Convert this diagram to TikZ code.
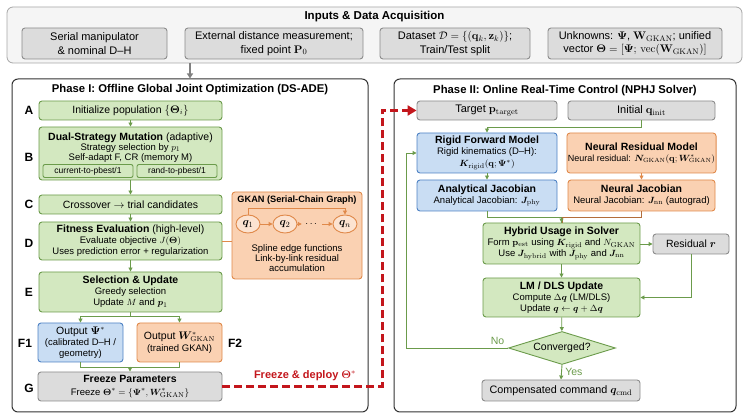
\documentclass[tikz,border=0pt]{standalone}
\usepackage{amsmath}
\usepackage{bm}
\usepackage[no-math]{fontspec}
\setmainfont{Liberation Sans}
\usepackage{xcolor}
\usepackage{tikz}
\usetikzlibrary{positioning, shapes.geometric, arrows.meta, calc}

\definecolor{grnfill}{HTML}{D3E8C0}
\definecolor{grnline}{HTML}{6B9B4B}
\definecolor{bluefill}{HTML}{C9DDF3}
\definecolor{blueline}{HTML}{4E82C4}
\definecolor{orgfill}{HTML}{FAD1B2}
\definecolor{orgline}{HTML}{E0894A}
\definecolor{grayfill}{HTML}{DCDCDC}
\definecolor{grayline}{HTML}{8C8C8C}
\definecolor{deployred}{HTML}{C3161C}

\begin{document}
\begin{tikzpicture}[x=1pt, y=1pt,
    boxwh/.style 2 args={minimum width=#1pt, minimum height=#2pt},
    box/.style={rounded corners=3pt, line width=0.9pt, align=center, inner sep=1pt, font=\fontsize{9.5}{11}\selectfont},
    grnbox/.style={box, draw=grnline, fill=grnfill},
    bluebox/.style={box, draw=blueline, fill=bluefill},
    orgbox/.style={box, draw=orgline, fill=orgfill},
    graybox/.style={box, draw=grayline, fill=grayfill},
    phasebox/.style={draw=black!80, line width=1pt, rounded corners=6pt},
    phasetitle/.style={font=\bfseries\fontsize{11.3}{12.5}\selectfont},
    steplabel/.style={font=\bfseries\fontsize{12}{13}\selectfont},
    qnode/.style={ellipse, draw=orgline, fill=orgfill!60!white, line width=0.9pt, minimum width=24pt, minimum height=18pt, inner sep=0pt, font=\fontsize{11}{12}\selectfont},
    flow/.style={-{Triangle[length=4pt, width=4pt]}, grnline, line width=0.9pt},
    oflow/.style={-{Triangle[length=4pt, width=4pt]}, orgline, line width=0.9pt}]
  \useasboundingbox (0,0) rectangle (750,420);

  % Inputs
  \node[draw=gray!70, fill=gray!8, rounded corners=6pt, line width=0.8pt, boxwh={735}{56}] (inp) at (374.5, 385) {};
  \node[font=\bfseries\fontsize{11.5}{13}\selectfont] (inptitle) at (374.5, 403) {Inputs \& Data Acquisition};
  \node[graybox, boxwh={145}{31}, font=\fontsize{11}{13.5}\selectfont] (in1) at (94.5, 376.5) {Serial manipulator\\ \& nominal D--H};
  \node[graybox, boxwh={178}{31}, font=\fontsize{11}{13.5}\selectfont] (in2) at (274, 376.5) {External distance measurement;\\ fixed point $\mathbf{P}_0$};
  \node[graybox, boxwh={150}{31}, font=\fontsize{11}{13.5}\selectfont] (in3) at (455, 376.5) {Dataset $\mathcal{D}=\{(\mathbf{q}_k,\mathbf{z}_k)\}$;\\ Train/Test split};
  \node[graybox, boxwh={174}{31}, font=\fontsize{11}{13.5}\selectfont] (in4) at (635, 376.5) {Unknowns: $\bm{\Psi}$, $\mathbf{W}_{\mathrm{GKAN}}$; unified\\ vector $\bm{\Theta}=[\bm{\Psi};\,\mathrm{vec}(\mathbf{W}_{\mathrm{GKAN}})]$};

  % Phase frames
  \node[phasebox, boxwh={356}{333}] (ph1) at (190, 174.5) {};
  \node[phasebox, boxwh={342}{333}] (ph2) at (565, 174.5) {};
  \node[phasetitle] (ph1title) at (190, 330) {Phase I: Offline Global Joint Optimization (DS-ADE)};
  \node[phasetitle] (ph2title) at (565, 329) {Phase II: Online Real-Time Control (NPHJ Solver)};
  \draw[-{Triangle[length=5pt, width=6pt]}, gray, line width=1.5pt] (inp.south -| ph1.north) -- (ph1.north);

  % Phase I steps
  \node[grnbox, boxwh={183}{19}, font=\fontsize{10.5}{12}\selectfont] (A) at (130.5, 309.5) {Initialize population $\{\bm{\Theta}_i\}$};
  \node[grnbox, boxwh={183}{53}] (B) at (130.5, 266.5) {};
  \node[align=center, font=\fontsize{9.5}{10.3}\selectfont] (Btxt) at (130.5, 272.5) {{\fontsize{10.5}{11}\selectfont\textbf{Dual-Strategy Mutation} (adaptive)}\\ Strategy selection by $p_1$\\ Self-adapt F, CR (memory M)};
  \node[grnbox, boxwh={90}{13}, rounded corners=2pt, font=\fontsize{8.5}{9}\selectfont] (B1) at (88, 249) {current-to-pbest/1};
  \node[grnbox, boxwh={80}{13}, rounded corners=2pt, font=\fontsize{8.5}{9}\selectfont] (B2) at (177, 249) {rand-to-pbest/1};
  \node[grnbox, boxwh={183}{19}, font=\fontsize{10.5}{12}\selectfont] (C) at (130.5, 215.5) {Crossover $\rightarrow$ trial candidates};
  \node[grnbox, boxwh={183}{38}] (D) at (130.5, 179) {{\fontsize{10.5}{11}\selectfont\textbf{Fitness Evaluation} (high-level)}\\ Evaluate objective $J(\bm{\Theta})$\\ Uses prediction error + regularization};
  \node[grnbox, boxwh={183}{40}] (E) at (130.5, 128) {{\fontsize{10.5}{11}\selectfont\textbf{Selection \& Update}}\\ Greedy selection\\ Update $M$ and $\bm{p}_1$};
  \node[bluebox, boxwh={85}{39}] (F1) at (80.5, 77.5) {{\fontsize{10.5}{11}\selectfont Output $\bm{\Psi}^*$}\\ (calibrated D--H /\\ geometry)};
  \node[orgbox, boxwh={85}{39}] (F2) at (179.5, 77.5) {{\fontsize{10.5}{11}\selectfont Output $\bm{W}^*_{\mathrm{GKAN}}$}\\[1pt] (trained GKAN)};
  \node[graybox, boxwh={184}{29}] (G) at (130, 33.5) {{\fontsize{10.5}{11}\selectfont\textbf{Freeze Parameters}}\\[2pt] Freeze $\bm{\Theta}^*=\{\bm{\Psi}^*,\bm{W}^*_{\mathrm{GKAN}}\}$};

  \node[steplabel] (lblA) at (29, 309.5) {A};
  \node[steplabel] (lblB) at (29, 263) {B};
  \node[steplabel] (lblC) at (29, 215.5) {C};
  \node[steplabel] (lblD) at (29, 177) {D};
  \node[steplabel] (lblE) at (29, 128) {E};
  \node[steplabel] (lblF1) at (25, 77) {F1};
  \node[steplabel] (lblF2) at (235, 77) {F2};
  \node[steplabel] (lblG) at (29, 32) {G};

  \draw[flow] (A) -- (B);
  \draw[flow] (B) -- (C);
  \draw[flow] (C) -- (D);
  \draw[flow] (D) -- (E);
  \draw[grnline, line width=0.9pt] (E.south) -- ++(0,-4) coordinate (esplit);
  \draw[flow] (esplit) -| (F1.north);
  \draw[flow] (esplit) -| (F2.north);
  \draw[grnline, line width=0.9pt] (F1.south) -- ++(0,-5) -| (F2.south);
  \draw[flow] ([yshift=5pt]G.north) -- (G.north);

  % GKAN graph
  \node[orgbox, boxwh={130}{87}] (gkan) at (297, 184.5) {};
  \node[font=\bfseries\fontsize{9.2}{11}\selectfont] (gkantitle) at (297, 220) {GKAN (Serial-Chain Graph)};
  \node[qnode] (q1) at (248, 196) {$\bm{q}_1$};
  \node[qnode] (q2) at (285, 196) {$\bm{q}_2$};
  \node (qd) at (312, 196) {$\cdots$};
  \node[qnode] (qn) at (345, 196) {$\bm{q}_n$};
  \draw[oflow] (q1) -- (q2);
  \draw[oflow] (q2) -- (qd);
  \draw[oflow] (qd) -- (qn);
  \draw[oflow] (q1.north) -- ++(0,6) -| (qn.north);
  \node[align=center, font=\fontsize{9.5}{9.8}\selectfont] (gkantxt) at (297, 162) {Spline edge functions\\ Link-by-link residual\\ accumulation};
  \draw[orgline, line width=0.9pt] (D.east) -- (D.east -| gkan.west);

  % Phase II solver
  \node[graybox, boxwh={140}{19}, font=\fontsize{11}{12}\selectfont] (tgt) at (487, 309.5) {Target $\mathbf{p}_{\mathrm{target}}$};
  \node[graybox, boxwh={147}{19}, font=\fontsize{11}{12}\selectfont] (init) at (641.5, 309.5) {Initial $\mathbf{q}_{\mathrm{init}}$};
  \node[bluebox, boxwh={140}{40}] (rig) at (487, 267) {{\fontsize{10.5}{11}\selectfont\textbf{Rigid Forward Model}}\\ Rigid kinematics (D--H):\\[1.5pt] $\bm{K}_{\mathrm{rigid}}(\mathbf{q};\bm{\Psi}^*)$};
  \node[orgbox, boxwh={147}{40}] (nres) at (641.5, 267) {{\fontsize{10.5}{12}\selectfont\textbf{Neural Residual Model}}\\ {\fontsize{9}{10}\selectfont Neural residual: $\bm{N}_{\mathrm{GKAN}}(\mathbf{q};\bm{W}^*_{\mathrm{GKAN}})$}};
  \node[bluebox, boxwh={140}{31}] (ajac) at (487, 224.5) {{\fontsize{10.5}{11}\selectfont\textbf{Analytical Jacobian}}\\ Analytical Jacobian: $\bm{J}_{\mathrm{phy}}$};
  \node[orgbox, boxwh={147}{31}] (njac) at (641.5, 224.5) {{\fontsize{10.5}{11}\selectfont\textbf{Neural Jacobian}}\\ Neural Jacobian: $\bm{J}_{\mathrm{nn}}$ (autograd)};
  \node[grnbox, boxwh={157}{41}] (hyb) at (561.5, 176.5) {{\fontsize{10.5}{11}\selectfont\textbf{Hybrid Usage in Solver}}\\ Form $\mathbf{p}_{\mathrm{est}}$ using $\bm{K}_{\mathrm{rigid}}$ and $N_{\mathrm{GKAN}}$\\ Use $\bm{J}_{\mathrm{hybrid}}$ with $\bm{J}_{\mathrm{phy}}$ and $\bm{J}_{\mathrm{nn}}$};
  \node[graybox, boxwh={76}{20}, font=\fontsize{10.5}{12}\selectfont] (res) at (691, 176) {Residual $\bm{r}$};
  \node[grnbox, boxwh={157}{39}] (lm) at (561.5, 122.5) {{\fontsize{10.5}{11}\selectfont\textbf{LM / DLS Update}}\\ Compute $\Delta\bm{q}$ (LM/DLS)\\ Update $\bm{q}\leftarrow\bm{q}+\Delta\bm{q}$};
  \node[diamond, aspect=3.2, draw=grnline, fill=grnfill, line width=0.9pt, inner sep=1pt, boxwh={107}{33}, font=\fontsize{10.5}{12}\selectfont] (conv) at (562, 72) {Converged?};
  \node[graybox, boxwh={158}{21}, font=\fontsize{10.8}{12}\selectfont] (cmd) at (561, 29.5) {Compensated command $\bm{q}_{\mathrm{cmd}}$};

  \draw[flow] (init.south) -- ++(0,-7) -| (rig.north);
  \draw[flow] (rig) -- (ajac);
  \draw[oflow] (nres) -- (njac);
  \draw[grnline, line width=0.9pt] (ajac.south) -- ++(0,-6) -| (hyb.north);
  \draw[orgline!80!black, line width=0.9pt] (njac.south) -- ++(0,-6) -| ([xshift=1pt]hyb.north);
  \draw[flow] ([yshift=5pt]hyb.north) -- (hyb.north);
  \draw[flow] (hyb.east |- res.west) -- (res.west);
  \draw[flow] (res.south) |- (lm.east);
  \draw[flow] (hyb) -- (lm);
  \draw[flow] (lm) -- (conv);
  \draw[flow] (conv.west) node[above left, font=\fontsize{10.5}{12}\selectfont] (nolbl) {No} -- ++(-102,0) |- (rig.west);
  \draw[flow] (conv.south) -- node[right, font=\fontsize{10.5}{12}\selectfont] (yeslbl) {Yes} (cmd.north);

  % Deploy link
  \draw[deployred, line width=2.4pt, dash pattern=on 8pt off 4pt, -{Triangle[length=9pt, width=10pt]}] (G.east) -- ++(160,0) |- (tgt.west);
  \node[text=deployred, font=\bfseries\fontsize{11}{12}\selectfont] (deploylbl) at (305, 44) {Freeze \& deploy $\bm{\Theta}^*$};
\end{tikzpicture}
\end{document}
